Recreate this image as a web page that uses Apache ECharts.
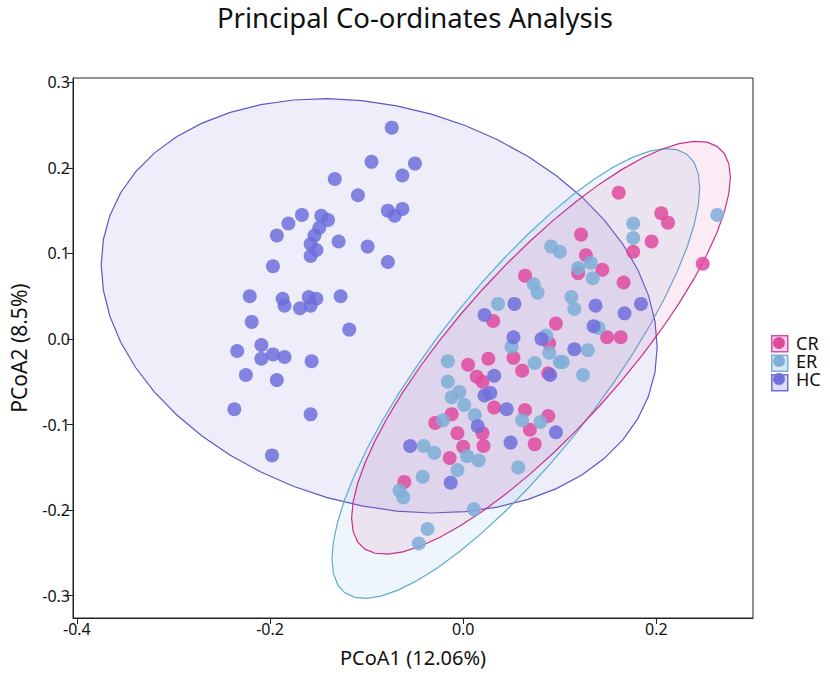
<!DOCTYPE html>
<html>
<head>
<meta charset="utf-8">
<script src="https://cdn.jsdelivr.net/npm/echarts@6.0.0/dist/echarts.min.js"></script>
<style>
  html, body { margin: 0; padding: 0; background: #fff; }
  #chart { width: 830px; height: 674px; }
</style>
</head>
<body>
<div id="chart"></div>
<script>
// 分组名
let groups = ['CR', 'ER', 'HC'];

// 各组样本点 [PCoA1, PCoA2]
let crPoints = [
    [0.161, 0.171], [0.205, 0.147], [0.212, 0.136], [0.248, 0.088], [0.195, 0.114],
    [0.176, 0.102], [0.122, 0.122], [0.127, 0.098], [0.119, 0.077], [0.144, 0.081],
    [0.166, 0.066], [0.064, 0.074], [0.031, 0.021], [0.096, 0.018], [0.149, 0.002],
    [0.163, 0.002], [0.089, -0.005], [0.005, -0.030], [0.026, -0.023], [0.014, -0.044],
    [0.020, -0.050], [0.052, -0.022], [0.061, -0.037], [0.088, -0.040], [0.032, -0.080],
    [0.064, -0.083], [-0.012, -0.088], [-0.029, -0.098], [0.020, -0.110], [-0.006, -0.110],
    [0.021, -0.125], [0.000, -0.126], [-0.014, -0.139], [0.069, -0.106], [0.088, -0.090],
    [0.074, -0.123], [-0.061, -0.167]
];

let erPoints = [
    [0.263, 0.145], [0.176, 0.135], [0.176, 0.118], [0.091, 0.108], [0.100, 0.102],
    [0.119, 0.083], [0.132, 0.089], [0.134, 0.071], [0.073, 0.064], [0.077, 0.054],
    [0.112, 0.049], [0.115, 0.035], [0.036, 0.041], [0.140, 0.013], [0.086, 0.004],
    [0.050, -0.009], [0.129, -0.013], [0.103, -0.027], [0.124, -0.042], [-0.016, -0.026],
    [0.074, -0.028], [0.089, -0.016], [0.100, -0.027], [-0.016, -0.050], [-0.004, -0.062],
    [-0.012, -0.068], [0.001, -0.077], [0.012, -0.089], [-0.021, -0.095], [0.061, -0.095],
    [0.080, -0.097], [-0.041, -0.125], [-0.030, -0.133], [0.004, -0.137], [0.016, -0.142],
    [0.057, -0.150], [-0.006, -0.153], [-0.042, -0.161], [-0.066, -0.177], [-0.062, -0.185],
    [0.011, -0.199], [-0.037, -0.222], [-0.046, -0.239]
];

let hcPoints = [
    [-0.074, 0.247], [-0.095, 0.207], [-0.050, 0.205], [-0.063, 0.191], [-0.133, 0.187],
    [-0.109, 0.168], [-0.078, 0.150], [-0.063, 0.152], [-0.071, 0.144], [-0.167, 0.145],
    [-0.181, 0.135], [-0.193, 0.121], [-0.147, 0.144], [-0.140, 0.139], [-0.149, 0.130],
    [-0.154, 0.121], [-0.158, 0.111], [-0.152, 0.104], [-0.158, 0.097], [-0.129, 0.114],
    [-0.099, 0.108], [-0.078, 0.090], [-0.197, 0.085], [-0.221, 0.050], [-0.187, 0.047],
    [-0.185, 0.039], [-0.169, 0.036], [-0.160, 0.049], [-0.152, 0.047], [-0.158, 0.039],
    [-0.127, 0.050], [-0.219, 0.020], [-0.118, 0.011], [-0.234, -0.014], [-0.209, -0.007],
    [-0.197, -0.018], [-0.209, -0.023], [-0.185, -0.021], [-0.157, -0.026], [-0.225, -0.042],
    [-0.193, -0.048], [-0.237, -0.082], [-0.158, -0.088], [-0.198, -0.136],
    [0.022, 0.028], [0.053, 0.041], [0.137, 0.039], [0.167, 0.030], [0.184, 0.041],
    [0.135, 0.015], [0.052, 0.002], [0.081, 0.000], [0.115, -0.012], [0.032, -0.043],
    [0.090, -0.042], [0.022, -0.066], [0.028, -0.063], [0.045, -0.082], [0.015, -0.102],
    [0.096, -0.109], [-0.055, -0.125], [0.049, -0.121], [-0.013, -0.168]
];

// 坐标轴刻度
let xTicks = [-0.4, -0.2, 0.0, 0.2];
let yTicks = [-0.3, -0.2, -0.1, 0.0, 0.1, 0.2, 0.3];

let pointColors = { CR: '#df4a9f', ER: '#7eaed8', HC: '#6f6fdc' };
let lineColors = { CR: '#c8308c', ER: '#62aacd', HC: '#5d58c4' };
let fillColors = { CR: 'rgba(223,74,159,0.11)', ER: 'rgba(110,170,215,0.11)', HC: 'rgba(100,100,215,0.11)' };
let boxFills = { CR: '#f8d7ea', ER: '#d6e8f5', HC: '#dcdcf6' };

// 95% 置信椭圆 (同 ggplot2 stat_ellipse, type = "norm")
let ellipsePoints = function (pts) {
    let n = pts.length, mx = 0, my = 0;
    pts.forEach(function (q) { mx += q[0] / n; my += q[1] / n; });
    let sxx = 0, sxy = 0, syy = 0;
    pts.forEach(function (q) {
        let dx = q[0] - mx, dy = q[1] - my;
        sxx += dx * dx; sxy += dx * dy; syy += dy * dy;
    });
    sxx /= n - 1; sxy /= n - 1; syy /= n - 1;
    let dfd = n - 1;
    let f = dfd / 2 * (Math.pow(0.05, -2 / dfd) - 1);   // qf(0.95, 2, n-1)
    let r = Math.sqrt(2 * f);
    let a = Math.sqrt(sxx);
    let b = sxy / a;
    let c = Math.sqrt(syy - b * b);
    let out = [];
    for (let i = 0; i < 51; i++) {
        let t = i / 50 * 2 * Math.PI;
        let u = Math.cos(t), v = Math.sin(t);
        out.push([mx + r * a * u, my + r * (b * u + c * v)]);
    }
    return out;
};

let groupPoints = { CR: crPoints, ER: erPoints, HC: hcPoints };

let series = [];
// 先画椭圆
['HC', 'ER', 'CR'].forEach(function (g) {
    let ring = ellipsePoints(groupPoints[g]);
    series.push({
        name: g,
        type: 'custom',
        silent: true,
        z: 1,
        data: [[0, 0]],
        renderItem: function (params, api) {
            return {
                type: 'polygon',
                shape: { points: ring.map(function (p) { return api.coord(p); }) },
                style: { fill: fillColors[g], stroke: lineColors[g], lineWidth: 1.2 }
            };
        }
    });
});
// 再画散点
groups.forEach(function (g) {
    series.push({
        name: g,
        type: 'scatter',
        z: 3,
        symbolSize: 14,
        data: groupPoints[g],
        itemStyle: { color: pointColors[g], opacity: 0.85 }
    });
});

let font = 'Noto Sans';
let chart = echarts.init(document.getElementById('chart'), null, { renderer: 'svg' });

chart.setOption({
    animation: false,
    title: {
        text: 'Principal Co-ordinates Analysis',
        left: 'center',
        top: -2,
        textStyle: { fontFamily: font, fontSize: 27.5, fontWeight: 'normal', color: '#111' }
    },
    legend: [{
        // 图例底框
        orient: 'vertical',
        left: 771,
        top: 335,
        padding: 0,
        itemWidth: 16,
        itemHeight: 16,
        itemGap: 2,
        selectedMode: false,
        formatter: function () { return ''; },
        textStyle: { fontSize: 1 },
        data: groups.map(function (g) {
            return { name: g, icon: 'rect', itemStyle: { color: boxFills[g], borderColor: pointColors[g], borderWidth: 1.5, opacity: 1 } };
        })
    }, {
        orient: 'vertical',
        left: 773,
        top: 334,
        padding: 0,
        itemWidth: 12,
        itemHeight: 12,
        itemGap: 0,
        selectedMode: false,
        textStyle: { fontFamily: font, fontSize: 18, lineHeight: 18, color: '#111', padding: [0, 0, 0, 6] },
        data: groups.map(function (g) {
            return { name: g, icon: 'circle', itemStyle: { color: pointColors[g], borderWidth: 0, opacity: 1 } };
        })
    }],
    grid: {
        left: 66,
        right: 77,
        top: 78,
        bottom: 56,
        show: true,
        borderColor: '#222',
        borderWidth: 1,
        backgroundColor: 'transparent'
    },
    xAxis: {
        type: 'value',
        min: -0.404,
        max: 0.3,
        name: 'PCoA1 (12.06%)',
        nameLocation: 'middle',
        nameGap: 29,
        nameTextStyle: { fontFamily: font, fontSize: 20, color: '#111' },
        axisLine: { show: true, onZero: false, lineStyle: { color: '#222' } },
        axisTick: { show: true, length: 6, lineStyle: { color: '#222' }, customValues: xTicks },
        axisLabel: {
            fontFamily: font, fontSize: 16, color: '#111', margin: 3,
            customValues: xTicks,
            formatter: function (v) { return v.toFixed(1); }
        },
        splitLine: { show: false }
    },
    yAxis: {
        type: 'value',
        min: -0.326,
        max: 0.305,
        name: 'PCoA2 (8.5%)',
        nameLocation: 'middle',
        nameGap: 44,
        nameTextStyle: { fontFamily: font, fontSize: 21, color: '#111' },
        axisLine: { show: true, onZero: false, lineStyle: { color: '#222' } },
        axisTick: { show: true, length: 6, lineStyle: { color: '#222' }, customValues: yTicks },
        axisLabel: {
            fontFamily: font, fontSize: 16, color: '#111', margin: 3,
            customValues: yTicks,
            formatter: function (v) { return v.toFixed(1); }
        },
        splitLine: { show: false }
    },
    series: series
});
</script>
</body>
</html>
